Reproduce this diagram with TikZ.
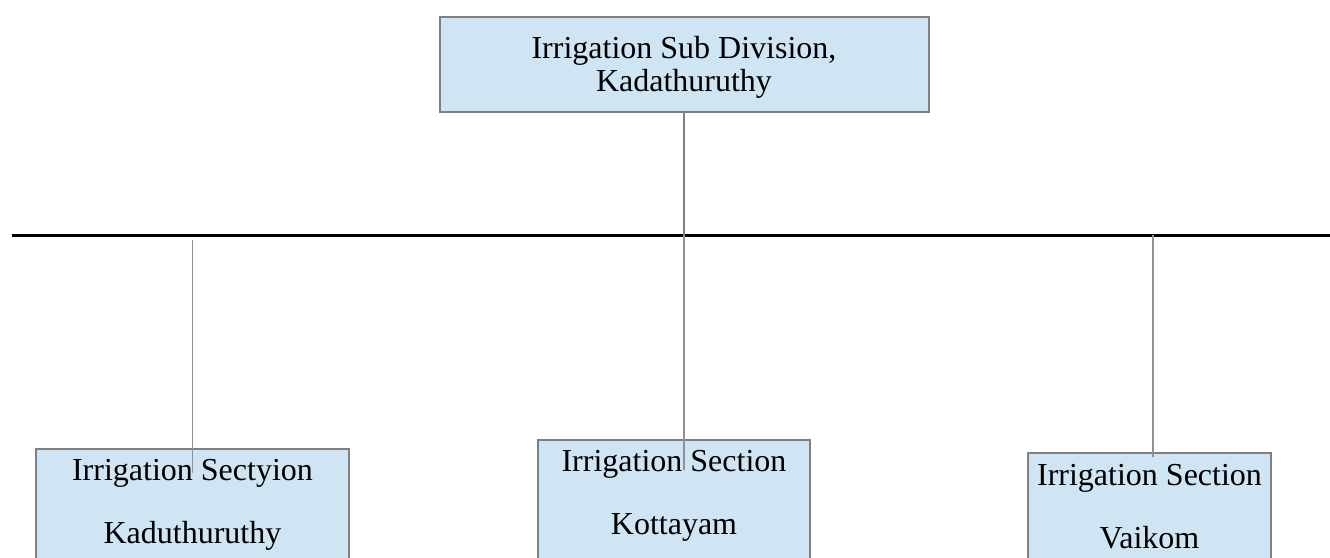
\documentclass[tikz,border=0pt]{standalone}
\usepackage{fontspec}
\setmainfont{Liberation Serif}
\usetikzlibrary{calc,positioning}
\definecolor{boxblue}{RGB}{207,229,243}
\definecolor{boxgray}{RGB}{128,128,128}
\definecolor{linkgray}{RGB}{145,145,145}
\tikzset{office/.style={draw=boxgray,line width=2pt,fill=boxblue,inner sep=0pt,
                        anchor=north,align=center,font=\fontsize{32}{33}\selectfont},
         section/.style={office,font=\fontsize{32}{63}\selectfont,text depth=40pt},
         link/.style={linkgray,line width=1.8pt}}
\begin{document}
\begin{tikzpicture}[x=1pt,y=-1pt]
                \clip (0,0) rectangle (1330,557);
                \node[office,minimum width=489pt,text height=74pt,text depth=21pt] (sub) at (684,16) {Irrigation Sub Division,\\Kadathuruthy};
                \node[section,minimum width=313pt,text height=94pt] (secA) at (192.5,448) {Irrigation Sectyion\\Kaduthuruthy};
                \node[section,minimum width=272pt,text height=94pt] (secB) at (674,439) {Irrigation Section\\Kottayam};
                \node[section,minimum width=243pt,text height=95pt] (secC) at (1149.5,452) {Irrigation Section\\Vaikom};
                \coordinate (busL) at (12,235);
                \coordinate (busR) at (1330,235);
                \draw[line width=3pt] (busL) -- (busR);
                \draw[boxgray,line width=2.5pt] (sub.south) -- ([yshift=-2pt]sub.south |- busL);
                \draw[link] ([yshift=-5pt]secA.north |- busL) -- ([yshift=-25pt]secA.north);
                \draw[link] (sub.south |- busL) -- ([yshift=-31pt]secB.north -| sub.south);
                \draw[link] ([xshift=3.5pt]secC.north |- busL) -- ([xshift=3.5pt,yshift=-5pt]secC.north);
            \end{tikzpicture}
\end{document}
